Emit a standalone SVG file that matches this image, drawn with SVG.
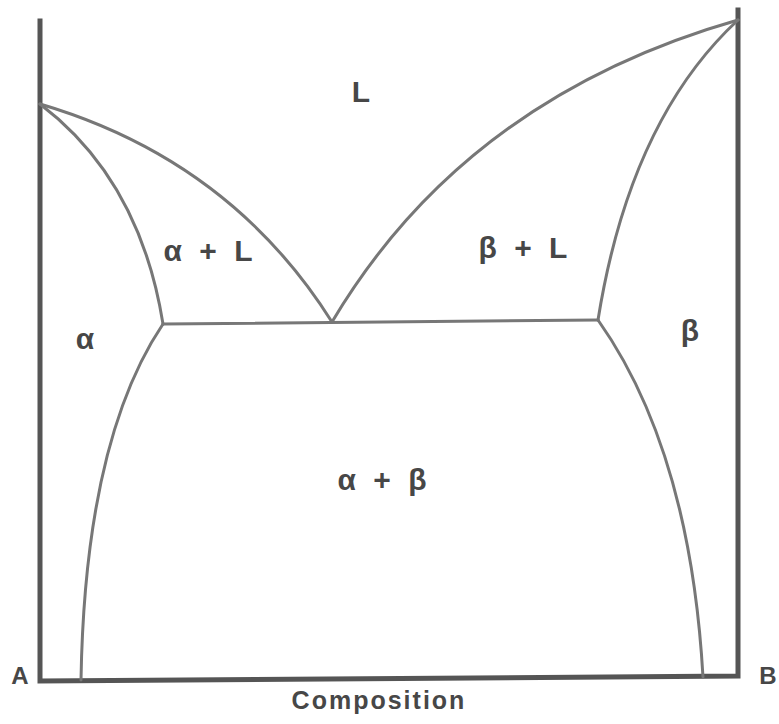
<svg xmlns="http://www.w3.org/2000/svg" width="779" height="724" viewBox="0 0 779 724">
<style>
.axis{fill:none;stroke:#555;stroke-width:5;stroke-linecap:square}
.curve{fill:none;stroke:#777;stroke-width:3;stroke-linecap:round;stroke-linejoin:round}
.lbl{font-family:"Liberation Sans",Arial,sans-serif;font-weight:bold;fill:#474747;text-anchor:middle}
.big{font-size:30px;word-spacing:9px}
.ax{font-size:24px}
</style>
<rect width="779" height="724" fill="#fff"/>
<g id="connectors">
<path class="axis" d="M40,21 L40,681 L738,676 L738,10"/>
<path class="curve" d="M40,104 Q230,160 332,322"/>
<path class="curve" d="M40,104 Q140,180 163,324"/>
<path class="curve" d="M163,324 Q85,440 81,680"/>
<path class="curve" d="M738,20 Q465,98 332,322"/>
<path class="curve" d="M738,20 Q630,120 598,320"/>
<path class="curve" d="M598,320 Q690,450 703,677"/>
<path class="curve" d="M163,324 L598,320"/>
</g>
<g id="label-L"><text class="lbl big" x="361" y="102">L</text></g>
<g id="label-alpha-L"><text class="lbl big" x="208" y="261">α + L</text></g>
<g id="label-beta-L"><text class="lbl big" x="523" y="258">β + L</text></g>
<g id="label-alpha"><text class="lbl big" x="85" y="349">α</text></g>
<g id="label-beta"><text class="lbl big" x="690" y="341">β</text></g>
<g id="label-alpha-beta"><text class="lbl big" x="382" y="490">α + β</text></g>
<g id="label-A"><text class="lbl ax" x="20" y="684">A</text></g>
<g id="label-B"><text class="lbl ax" x="768" y="684">B</text></g>
<g id="label-composition"><text class="lbl" style="font-size:25px;letter-spacing:2px" x="379" y="709">Composition</text></g>
</svg>
